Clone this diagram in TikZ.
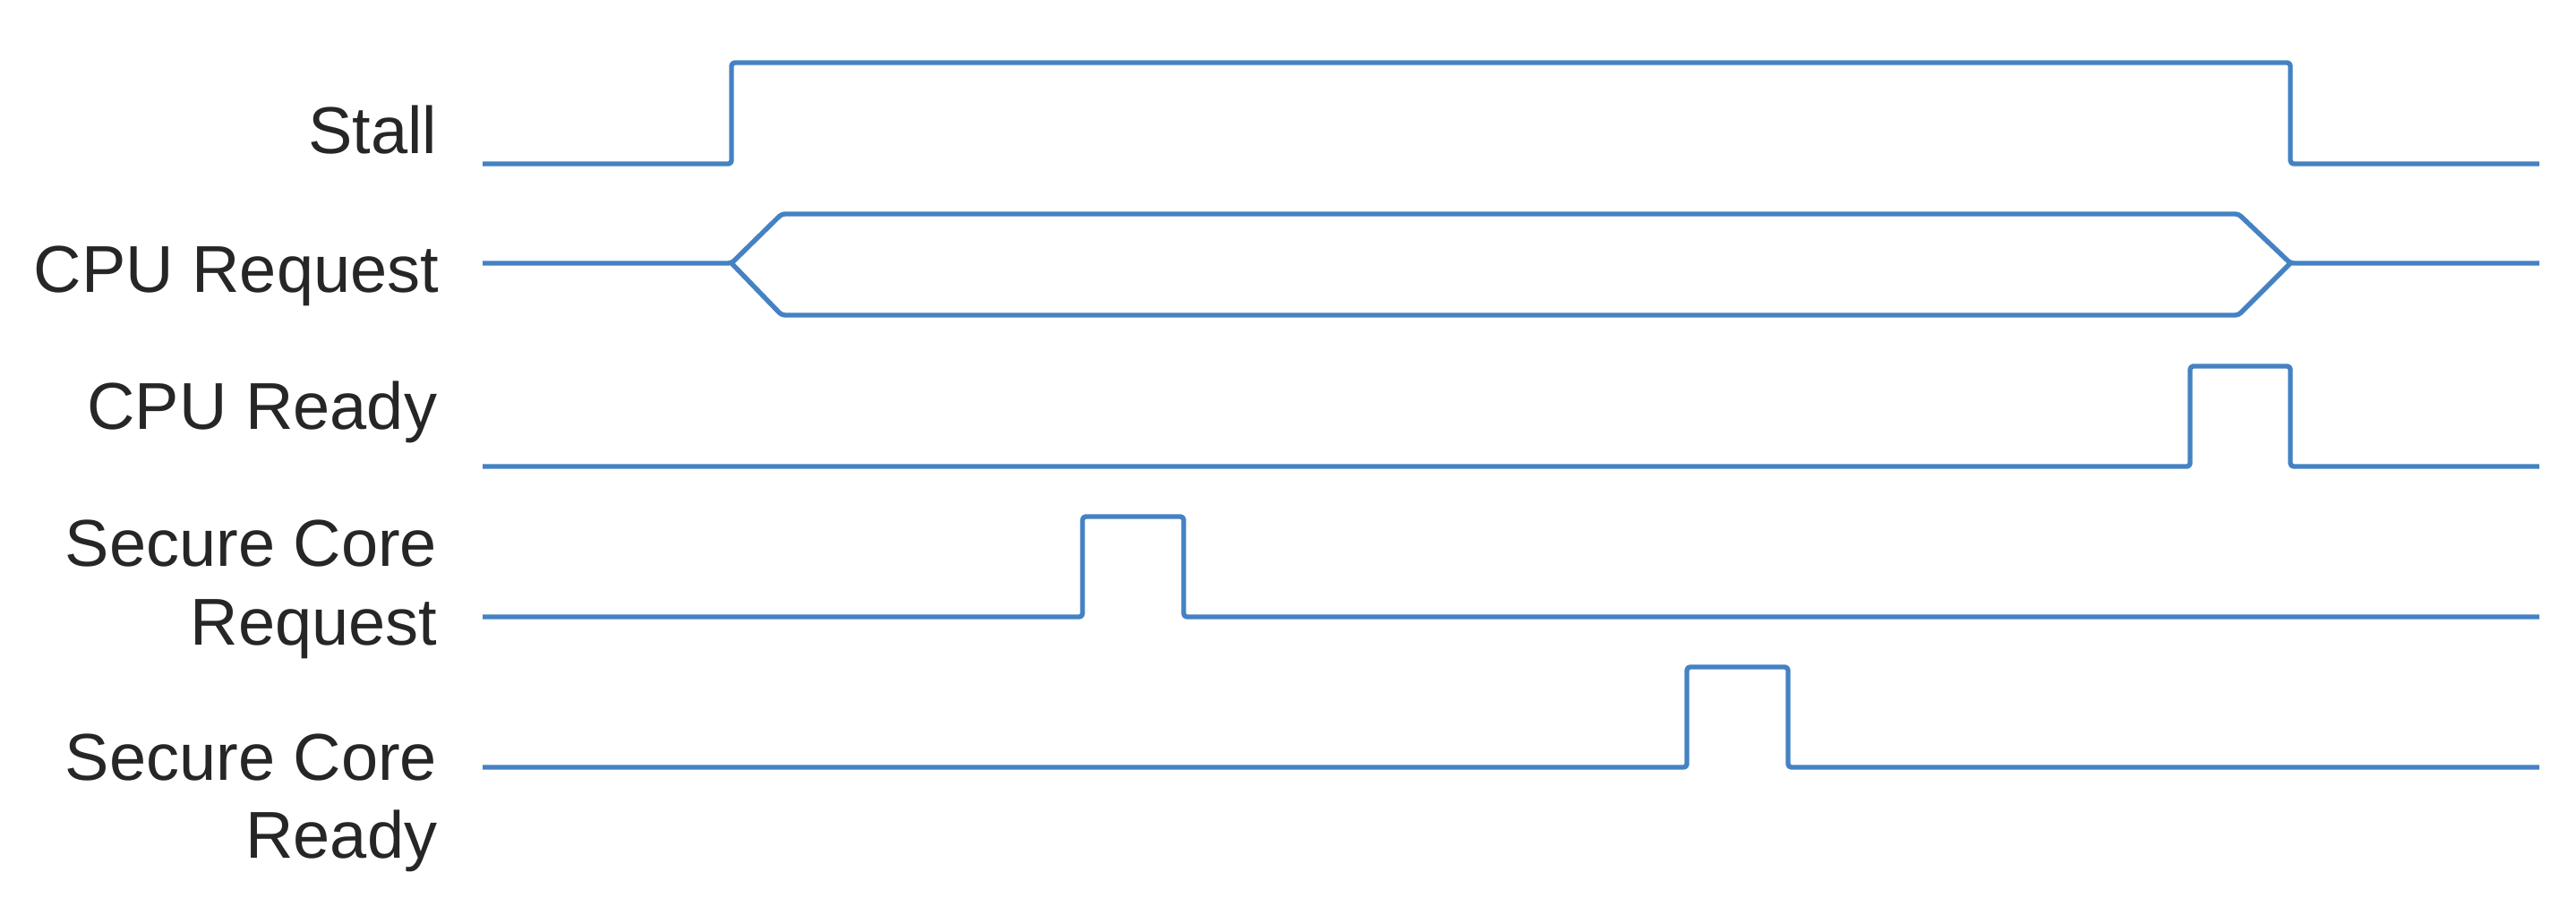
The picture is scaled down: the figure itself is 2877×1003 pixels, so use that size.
\documentclass[tikz,border=0pt]{standalone}
\usepackage{fontspec}
\setmainfont{Liberation Sans}
\usepackage{tikz}

\begin{document}
\begin{tikzpicture}[x=0.25pt,y=0.25pt,yscale=-1,xscale=1,
  wave/.style={color={rgb, 255:red, 68; green, 130; blue, 195 }, line width=1.35pt, rounded corners=0.9pt, line join=round},
  sigtext/.style={anchor=base east, inner sep=0pt, align=right, text={rgb, 255:red, 38; green, 38; blue, 38 }, font=\fontsize{18.5pt}{21.75pt}\selectfont}]
%set diagram left start at 0, and has height of 1003
\path (0,0) rectangle (2877,1003);

%Straight Lines: Stall
\draw [wave] (539,183) -- (817,183) -- (817,70) -- (2558,70) -- (2558,183) -- (2836,183) ;
%Straight Lines: CPU Request (bus)
\draw [wave] (539,294) -- (817,294) -- (873,239) -- (2500,239) -- (2558,294) -- (2836,294) ;
\draw [wave] (817,294) -- (873,352) -- (2500,352) -- (2558,294) ;
%Straight Lines: CPU Ready
\draw [wave] (539,521) -- (2446,521) -- (2446,409) -- (2558,409) -- (2558,521) -- (2836,521) ;
%Straight Lines: Secure Core Request
\draw [wave] (539,689) -- (1209,689) -- (1209,577) -- (1322,577) -- (1322,689) -- (2836,689) ;
%Straight Lines: Secure Core Ready
\draw [wave] (539,857) -- (1884,857) -- (1884,745) -- (1997,745) -- (1997,857) -- (2836,857) ;

% Text Node
\draw (489,172) node (lblStall) [sigtext] {Stall};
% Text Node
\draw (491,327) node (lblCpuReq) [sigtext] {CPU Request};
% Text Node
\draw (489,480) node (lblCpuRdy) [sigtext] {CPU Ready};
% Text Node (base is the last line)
\draw (489,720) node (lblScReq) [sigtext] {Secure Core\\Request};
% Text Node (base is the last line)
\draw (489,958) node (lblScRdy) [sigtext] {Secure Core\\Ready};

\end{tikzpicture}
\end{document}
